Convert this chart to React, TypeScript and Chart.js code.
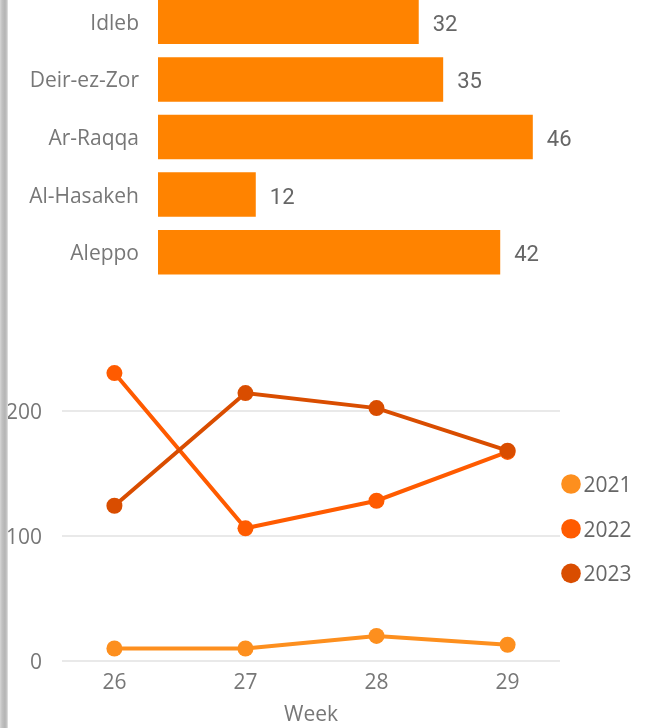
import React, { useEffect, useRef } from "react";
import { Chart, registerables } from "chart.js";

Chart.register(...registerables);

// ---- Data ----
const regions = ["Idleb", "Deir-ez-Zor", "Ar-Raqqa", "Al-Hasakeh", "Aleppo"];
const regionValues = [32, 35, 46, 12, 42];

const weeks = [26, 27, 28, 29];
const seriesNames = ["2021", "2022", "2023"];
const values2021 = [10, 10, 20, 13];
const values2022 = [230, 106, 128, 167];
const values2023 = [124, 214, 202, 168];
const yTickValues = [0, 100, 200];

const seriesColors = ["#FD8F1E", "#FF5B00", "#D94D00"];
const barColor = "#FF8300";
const textColor = "#777777";
const FONT = '"Segoe UI", "Open Sans", sans-serif';

const barValueLabels = {
  id: "barValueLabels",
  afterDatasetsDraw(chart: any) {
    const { ctx } = chart;
    const meta = chart.getDatasetMeta(0);
    ctx.save();
    ctx.font = '400 22px Roboto, "DejaVu Sans", sans-serif';
    ctx.fillStyle = "#666666";
    ctx.textAlign = "left";
    ctx.textBaseline = "alphabetic";
    meta.data.forEach((bar: any, i: number) => {
      const v = chart.data.datasets[0].data[i];
      ctx.fillText(String(v), bar.x + 14, bar.y + 9);
    });
    ctx.restore();
  },
};

const sideLegend = {
  id: "sideLegend",
  afterDraw(chart: any) {
    const { ctx, chartArea } = chart;
    const cx = chartArea.right + 11;
    const y0 = chartArea.bottom - 177;
    ctx.save();
    chart.data.datasets.forEach((ds: any, i: number) => {
      const cy = y0 + i * 44.7;
      ctx.fillStyle = ds.backgroundColor;
      ctx.beginPath();
      ctx.arc(cx, cy, 9.8, 0, Math.PI * 2);
      ctx.fill();
      ctx.fillStyle = "#666666";
      ctx.font = `21px ${FONT}`;
      ctx.textAlign = "left";
      ctx.textBaseline = "alphabetic";
      ctx.fillText(ds.label, cx + 12.5, cy + 8);
    });
    ctx.restore();
  },
};

function noPad(scale: any) {
  scale.paddingTop = 0;
  scale.paddingBottom = 0;
  scale.paddingLeft = 0;
  scale.paddingRight = 0;
}

function BarChart() {
  const ref = useRef<HTMLCanvasElement>(null);
  useEffect(() => {
    const chart = new Chart(ref.current!, {
      type: "bar",
      data: {
        labels: regions,
        datasets: [
          {
            data: regionValues,
            backgroundColor: barColor,
            borderWidth: 0,
            barPercentage: 0.773,
            categoryPercentage: 1,
          },
        ],
      },
      options: {
        indexAxis: "y",
        responsive: false,
        animation: false,
        layout: { padding: { left: 0, right: 94.6, top: 0, bottom: 0 } },
        plugins: { legend: { display: false }, tooltip: { enabled: false } },
        scales: {
          x: { type: "linear", min: 0, max: 50, display: false },
          y: {
            type: "category",
            grid: { display: false, drawTicks: false },
            border: { display: false },
            ticks: {
              color: textColor,
              font: { family: FONT, size: 21 },
              padding: 19,
              labelOffset: 2,
            },
            afterFit(scale: any) {
              scale.width = 158;
              noPad(scale);
            },
          },
        },
      },
      plugins: [barValueLabels],
    });
    return () => chart.destroy();
  }, []);
  return <canvas ref={ref} width={660} height={288} style={{ width: 660, height: 288, display: "block" }} />;
}

function LineChart() {
  const ref = useRef<HTMLCanvasElement>(null);
  useEffect(() => {
    const all = [values2021, values2022, values2023];
    const chart = new Chart(ref.current!, {
      type: "line",
      data: {
        datasets: seriesNames.map((name, i) => ({
          label: name,
          data: weeks.map((w, j) => ({ x: w, y: all[i][j] })),
          borderColor: seriesColors[i],
          backgroundColor: seriesColors[i],
          borderWidth: 4,
          pointRadius: 8,
          pointHoverRadius: 8,
          pointBorderWidth: 0,
          tension: 0,
          order: 2 - i,
        })),
      },
      options: {
        responsive: false,
        animation: false,
        layout: { padding: { left: 0, right: 100, top: 18, bottom: 0 } },
        plugins: { legend: { display: false }, tooltip: { enabled: false } },
        scales: {
          x: {
            type: "linear",
            min: 25.6,
            max: 29.4,
            bounds: "data",
            grid: { display: false, drawTicks: false },
            border: { display: false },
            afterBuildTicks(scale: any) {
              scale.ticks = weeks.map((v) => ({ value: v }));
            },
            ticks: {
              color: textColor,
              font: { family: FONT, size: 21 },
              padding: 9,
              callback: (v: any) => String(v),
            },
            title: {
              display: true,
              text: "Week",
              color: textColor,
              font: { family: FONT, size: 21 },
              padding: { top: 0, bottom: 0 },
            },
            afterFit(scale: any) {
              scale.height = 67;
              noPad(scale);
            },
          },
          y: {
            type: "linear",
            min: 0,
            max: 250,
            bounds: "data",
            grid: { color: "#e9e9e9", lineWidth: 2, drawTicks: false },
            border: { display: false },
            afterBuildTicks(scale: any) {
              scale.ticks = yTickValues.map((v) => ({ value: v }));
            },
            ticks: {
              color: textColor,
              font: { family: FONT, size: 21 },
              padding: 20,
              labelOffset: 2,
            },
            afterFit(scale: any) {
              scale.width = 62;
              noPad(scale);
            },
          },
        },
      },
      plugins: [sideLegend],
    });
    return () => chart.destroy();
  }, []);
  return <canvas ref={ref} width={660} height={398} style={{ width: 660, height: 398, display: "block" }} />;
}

export default function App() {
  return (
    <div
      style={{
        position: "fixed",
        left: 0,
        top: 0,
        width: 660,
        height: 728,
        background: "#ffffff",
        overflow: "hidden",
      }}
    >
      <div style={{ position: "absolute", left: 0, top: -7, width: 660, height: 288 }}>
        <BarChart />
      </div>
      <div style={{ position: "absolute", left: 0, top: 330, width: 660, height: 398 }}>
        <LineChart />
      </div>
      <div
        style={{
          position: "absolute",
          left: 0,
          top: 0,
          width: 8,
          height: 728,
          background:
            "linear-gradient(to right, #d6d6d6 0px, #c2c2c2 2px, #b4b4b4 5px, #c8c8c8 7px, #ececec 8px)",
        }}
      />
    </div>
  );
}
